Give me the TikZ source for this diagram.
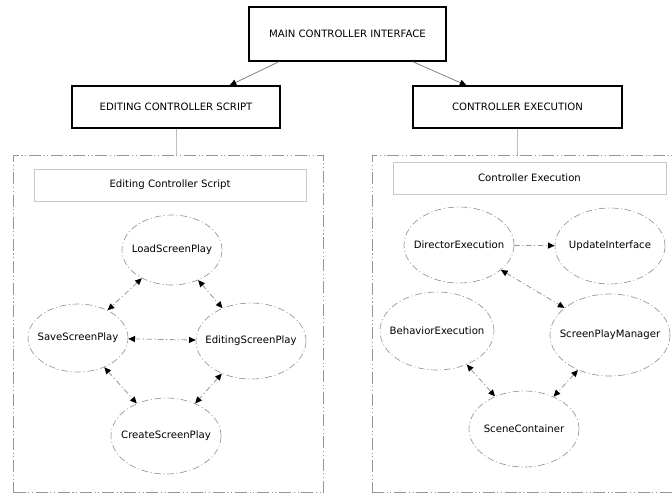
\documentclass[tikz,border=0pt]{standalone}
\usepackage{fontspec}
\setmainfont{DejaVu Sans}
\usepackage{tikz}
\usetikzlibrary{shapes}
\usetikzlibrary{arrows.meta}

\tikzset{
  mainbox/.style={draw=black, line width=1pt, inner sep=0.75pt, font=\fontsize{7.6}{9}\selectfont},
  frame/.style={draw={rgb, 255:red, 150; green, 150; blue, 150}, line width=0.6pt,
    dash pattern=on 9pt off 2pt on 0.8pt off 2pt on 0.8pt off 2pt},
  titlebox/.style={draw={rgb, 255:red, 200; green, 200; blue, 200}, line width=0.6pt, inner sep=0.75pt,
    minimum height=24pt, font=\fontsize{7.6}{9}\selectfont},
  ell/.style={ellipse, draw={rgb, 255:red, 150; green, 150; blue, 150}, line width=0.5pt, inner sep=0pt,
    dash pattern=on 5pt off 2pt on 0.8pt off 2pt, font=\fontsize{7.6}{9}\selectfont},
  link/.style={draw={rgb, 255:red, 150; green, 150; blue, 150}, line width=0.6pt,
    dash pattern=on 4pt off 2pt on 0.8pt off 2pt},
  tip/.tip={Triangle[length=5pt, width=4.5pt, color=black]},
}
\newcommand{\inell}[1]{\makebox[0pt]{#1}}

\begin{document}
\begin{tikzpicture}[x=0.75pt,y=0.75pt,yscale=-1,xscale=1]
\useasboundingbox (0,0) rectangle (672,494);

%Shape: Rectangle [main boxes]
\node [mainbox, minimum width=147.75pt, minimum height=40.5pt] (main) at (347.5,34) {MAIN CONTROLLER INTERFACE};
\node [mainbox, minimum width=156pt, minimum height=31.5pt] (edit) at (176,107) {EDITING CONTROLLER SCRIPT};
\node [mainbox, minimum width=156.75pt, minimum height=31.5pt] (exec) at (517.5,107) {CONTROLLER EXECUTION};

%Straight Lines [main to boxes]
\draw [draw={rgb, 255:red, 130; green, 130; blue, 130}, line width=0.6pt, -tip] (main.202) -- (edit.22);
\draw [draw={rgb, 255:red, 130; green, 130; blue, 130}, line width=0.6pt, -tip] (main.-23) -- (exec.157);

%Shape: Rectangle [frames]
\node [frame, minimum width=232.5pt, minimum height=252.75pt] (editframe) at (168.5,324) {};
\node [frame, minimum width=232.5pt, minimum height=252.75pt] (execframe) at (527,324) {};
\draw [draw={rgb, 255:red, 190; green, 190; blue, 190}, line width=0.6pt] (edit.south) -- (edit.south |- editframe.north);
\draw [draw={rgb, 255:red, 190; green, 190; blue, 190}, line width=0.6pt] (exec.south) -- (exec.south |- execframe.north);

% Text Node
\node [titlebox, minimum width=204pt] (edittitle) at (170,185) {Editing Controller Script};
% Text Node
\node [titlebox, minimum width=204.75pt] (exectitle) at (529.5,178) {Controller Execution};

%Shape: Ellipse [editing side]
\node [ell, minimum width=75pt, minimum height=52.5pt] (load) at (172,250) {\inell{LoadScreenPlay}};
\node [ell, minimum width=75pt, minimum height=51pt] (save) at (78,338) {\inell{SaveScreenPlay}};
\node [ell, minimum width=82.5pt, minimum height=57pt] (editing) at (251,341) {\inell{EditingScreenPlay}};
\node [ell, minimum width=82.5pt, minimum height=57pt] (create) at (166,436) {\inell{CreateScreenPlay}};

%Shape: Ellipse [execution side]
\node [ell, minimum width=82.5pt, minimum height=57pt] (director) at (459,245) {\inell{DirectorExecution}};
\node [ell, minimum width=82.5pt, minimum height=57pt] (update) at (610,246) {\inell{UpdateInterface}};
\node [ell, minimum width=85.5pt, minimum height=58.5pt] (behavior) at (437,331) {\inell{BehaviorExecution}};
\node [ell, minimum width=90pt, minimum height=61.5pt] (manager) at (610,335) {\inell{ScreenPlayManager}};
\node [ell, minimum width=82.5pt, minimum height=57pt] (scene) at (524,429) {\inell{SceneContainer}};

%Straight Lines [editing links]
\draw [link, tip-tip] (load) -- (save);
\draw [link, tip-tip] (load) -- (editing);
\draw [link, tip-tip] (save) -- (editing);
\draw [link, tip-tip] (save) -- (create);
\draw [link, tip-tip] (editing) -- (create);

%Straight Lines [execution links]
\draw [link, -tip] (director) -- (update);
\draw [link, tip-tip] (director) -- (manager);
\draw [link, tip-tip] (behavior) -- (scene);
\draw [link, tip-tip] (manager) -- (scene);

\end{tikzpicture}
\end{document}
